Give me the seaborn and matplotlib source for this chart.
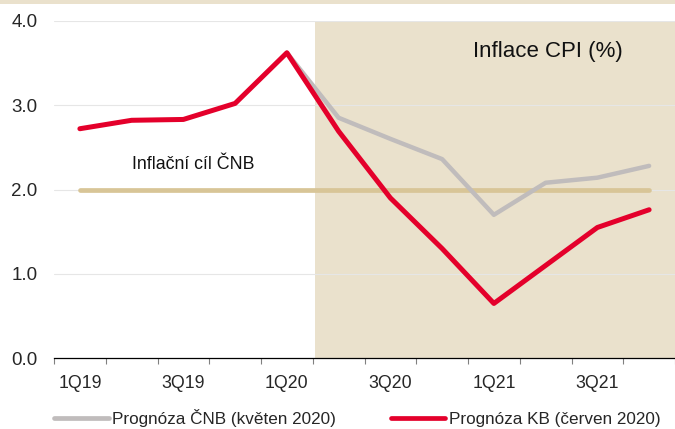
import numpy as np
import pandas as pd
import matplotlib
matplotlib.use("Agg")
import matplotlib.pyplot as plt
import seaborn as sns
from matplotlib.patches import Rectangle
from matplotlib.lines import Line2D

quarters = ["1Q19", "2Q19", "3Q19", "4Q19", "1Q20", "2Q20", "3Q20", "4Q20",
            "1Q21", "2Q21", "3Q21", "4Q21"]
kb_forecast = [2.72, 2.82, 2.83, 3.02, 3.62, 2.69, 1.90, 1.30, 0.65, 1.10, 1.55, 1.76]
cnb_quarters = ["1Q20", "2Q20", "3Q20", "4Q20", "1Q21", "2Q21", "3Q21", "4Q21"]
cnb_forecast = [3.62, 2.85, 2.60, 2.36, 1.70, 2.08, 2.14, 2.28]
target = 2.0
yticks = [0.0, 1.0, 2.0, 3.0, 4.0]
shown_labels = ["1Q19", "3Q19", "1Q20", "3Q20", "1Q21", "3Q21"]
label_cnb = "Prognóza ČNB (květen 2020)"
label_kb = "Prognóza KB (červen 2020)"
label_target = "Inflační cíl ČNB"
title = "Inflace CPI (%)"

sns.set_theme(style="white")
plt.rcParams['font.family'] = ['Liberation Sans', 'DejaVu Sans']

pos = {q: i for i, q in enumerate(quarters)}
df_kb = pd.DataFrame({"x": [pos[q] for q in quarters], "y": kb_forecast})
df_cnb = pd.DataFrame({"x": [pos[q] for q in cnb_quarters], "y": cnb_forecast})
df_t = pd.DataFrame({"x": [pos[q] for q in quarters], "y": [target] * len(quarters)})

W, H = 675, 429
fig = plt.figure(figsize=(W / 100, H / 100), dpi=100)
ax = fig.add_axes([54 / W, 1 - 358.3 / H, 1 - 54 / W, (358.3 - 20.7) / H])

beige = "#EAE1CC"
red = "#E4002B"
gray = "#C0BCBC"
tan = "#D8C597"

# top band
fig.patches.append(Rectangle((0, 1 - 4 / H), 1, 4 / H, transform=fig.transFigure,
                             facecolor=beige, edgecolor="none", zorder=0))

# forecast shaded region
ax.axvspan(pos["1Q20"] + 0.54, 20, color=beige, zorder=0, lw=0)

for v in yticks[1:]:
    ax.axhline(v, color="#E6E6E6", lw=0.8, zorder=0.5)

sns.lineplot(data=df_t, x="x", y="y", ax=ax, color=tan, lw=3.4, zorder=2,
             solid_capstyle="round")
sns.lineplot(data=df_cnb, x="x", y="y", ax=ax, color=gray, lw=3.2, zorder=3)
sns.lineplot(data=df_kb, x="x", y="y", ax=ax, color=red, lw=3.6, zorder=4)

# 12 categories span ~52 px each starting at x=54
ax.set_xlim(-0.5, -0.5 + (W - 54) / 52.0)
ax.set_ylim(0, 4)
ax.set_xlabel("")
ax.set_ylabel("")
for s in ["top", "right", "left"]:
    ax.spines[s].set_visible(False)
ax.spines["bottom"].set_color("black")
ax.spines["bottom"].set_linewidth(0.9)

ax.set_yticks(yticks)
ax.set_yticklabels([f"{v:.1f}" for v in yticks], fontsize=13.5)
ax.tick_params(axis="y", length=0, pad=12)

ax.set_xticks([pos[q] for q in shown_labels])
ax.set_xticklabels(shown_labels, fontsize=12.8)
ax.set_xticks(np.arange(-0.5, 12, 1.0), minor=True)
ax.tick_params(axis="x", which="major", length=0, pad=12)
ax.tick_params(axis="x", which="minor", length=4, color="#808080", width=0.8,
               direction="out", bottom=True)

ax.text(2.2, 2.3, label_target, ha="center", va="center", fontsize=12.8, color="#111111")
ax.text(9.05, 3.63, title, ha="center", va="center", fontsize=16, color="#111111")

handles = [Line2D([], [], color=gray, lw=3.4), Line2D([], [], color=red, lw=3.4)]
fig.legend(handles, [label_cnb, label_kb], loc="center left",
           bbox_to_anchor=(54 / W, 1 - 418 / H), ncol=2, frameon=False,
           fontsize=12.3, handlelength=3.2, handletextpad=0.2, columnspacing=3.2,
           borderaxespad=0, borderpad=0)

fig.savefig("out.png", dpi=100)
